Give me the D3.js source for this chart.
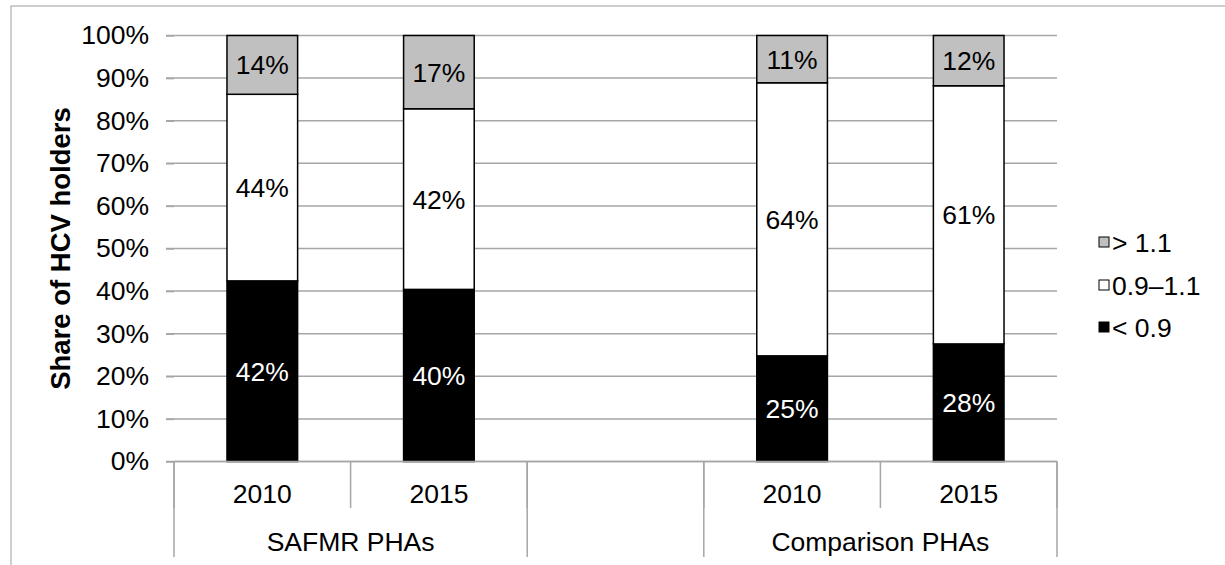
<!DOCTYPE html>
<html>
<head>
<meta charset="utf-8">
<script src="https://cdn.jsdelivr.net/npm/d3@7"></script>
<style>
  html, body { margin: 0; padding: 0; background: #fff; }
  svg { display: block; }
  text { font-family: "Liberation Sans", Arial, sans-serif; fill: #000; }
</style>
</head>
<body>
<div id="chart"></div>
<script>
// ---- data ----
const slots = ["S2010", "S2015", "gap", "C2010", "C2015"];
const yearLabels = ["2010", "2015", "", "2010", "2015"];
const groupNames = ["SAFMR PHAs", "", "Comparison PHAs"];
const groupSpans = [[0, 1], [2, 2], [3, 4]];
const seriesNames = ["< 0.9", "0.9–1.1", "> 1.1"];
const below = [42.4, 40.4, null, 24.8, 27.6];
const middle = [43.8, 42.4, null, 64.1, 60.6];
const above = [13.8, 17.2, null, 11.1, 11.8];
const yTicks = [0, 10, 20, 30, 40, 50, 60, 70, 80, 90, 100];

const colors = ["#000000", "#ffffff", "#c0c0c0"];
const labelColors = ["#ffffff", "#000000", "#000000"];

const W = 1225, H = 565;
const FS = 26.5;
const svg = d3.select("#chart").append("svg").attr("width", W).attr("height", H);

// outer border
svg.append("rect").attr("x", 11).attr("y", 6).attr("width", W).attr("height", H)
  .attr("fill", "none").attr("stroke", "#bfbfbf").attr("stroke-width", 1.5);

const x0 = 174, x1 = 1057, yTop = 35.5, yBot = 461.5;
const x = d3.scaleBand().domain(slots).range([x0, x1]).paddingInner(0.6).paddingOuter(0.3);
const y = d3.scaleLinear().domain([0, 100]).range([yBot, yTop]);

// gridlines
svg.append("g").selectAll("line").data(yTicks).join("line")
  .attr("x1", x0 - 8).attr("x2", x1)
  .attr("y1", d => y(d)).attr("y2", d => y(d))
  .attr("stroke", "#a6a6a6").attr("stroke-width", 1.5);

// y axis
const yAxis = svg.append("g").attr("transform", `translate(${x0},0)`)
  .call(d3.axisLeft(y).tickValues(yTicks).tickSize(8).tickPadding(17).tickFormat(d => d + "%"));
yAxis.select(".domain").remove();
yAxis.selectAll(".tick line").attr("stroke", "#a6a6a6").attr("stroke-width", 1.5);
yAxis.selectAll(".tick text").attr("font-size", FS).attr("font-family", "Liberation Sans, Arial, sans-serif").attr("fill", "#000");

// y title
svg.append("text")
  .attr("transform", `translate(70,${(yTop + yBot) / 2}) rotate(-90)`)
  .attr("text-anchor", "middle").attr("font-size", 27.5).attr("font-weight", "bold")
  .text("Share of HCV holders");

// stacked bars
const rows = slots.map((s, i) => ({ slot: s, a: below[i], b: middle[i], c: above[i] }))
  .filter(r => r.a !== null);
const stack = d3.stack().keys(["a", "b", "c"]);
const stacked = stack(rows);

const layers = svg.append("g").selectAll("g").data(stacked).join("g")
  .attr("fill", (d, i) => colors[i]);
layers.selectAll("rect").data(d => d).join("rect")
  .attr("x", d => x(d.data.slot))
  .attr("width", x.bandwidth())
  .attr("y", d => y(d[1]))
  .attr("height", d => y(d[0]) - y(d[1]))
  .attr("stroke", "#000").attr("stroke-width", 1.5);

// labels
stacked.forEach((layer, i) => {
  svg.append("g").selectAll("text").data(layer).join("text")
    .attr("x", d => x(d.data.slot) + x.bandwidth() / 2)
    .attr("y", d => y((d[0] + d[1]) / 2))
    .attr("dy", "0.36em")
    .attr("text-anchor", "middle").attr("font-size", FS)
    .style("fill", labelColors[i])
    .text(d => Math.round(d[1] - d[0]) + "%");
});

// category axis
const ax = svg.append("g");
ax.append("line").attr("x1", x0).attr("x2", x1).attr("y1", yBot).attr("y2", yBot)
  .attr("stroke", "#a6a6a6").attr("stroke-width", 1.5);
const step = x.step();
const slotLeft = i => x0 + i * step;
ax.selectAll("line.yr").data(d3.range(slots.length + 1)).join("line").attr("class", "yr")
  .attr("x1", i => slotLeft(i)).attr("x2", i => slotLeft(i))
  .attr("y1", yBot).attr("y2", 508)
  .attr("stroke", "#a6a6a6").attr("stroke-width", 1.5);
const groupEdges = [0, 2, 3, 5];
ax.selectAll("line.gr").data(groupEdges).join("line").attr("class", "gr")
  .attr("x1", i => slotLeft(i)).attr("x2", i => slotLeft(i))
  .attr("y1", yBot).attr("y2", 557)
  .attr("stroke", "#a6a6a6").attr("stroke-width", 1.5);
ax.selectAll("text.yr").data(slots).join("text").attr("class", "yr")
  .attr("x", s => x(s) + x.bandwidth() / 2).attr("y", 493).attr("dy", "0.36em")
  .attr("text-anchor", "middle").attr("font-size", FS)
  .text((s, i) => yearLabels[i]);
ax.selectAll("text.gr").data(groupNames).join("text").attr("class", "gr")
  .attr("x", (g, i) => (slotLeft(groupSpans[i][0]) + slotLeft(groupSpans[i][1] + 1)) / 2)
  .attr("y", 541).attr("dy", "0.36em")
  .attr("text-anchor", "middle").attr("font-size", FS)
  .text(g => g);

// legend
const legendOrder = [2, 1, 0];
const legendY = [242, 285, 327];
const lg = svg.append("g").selectAll("g").data(legendOrder).join("g")
  .attr("transform", (d, i) => `translate(1099,${legendY[i]})`);
lg.append("rect").attr("x", 0).attr("y", -5).attr("width", 10).attr("height", 10)
  .attr("fill", d => colors[d]).attr("stroke", "#000").attr("stroke-width", 1);
lg.append("text").attr("x", 13).attr("dy", "0.36em").attr("font-size", FS)
  .text(d => seriesNames[d]);
</script>
</body>
</html>
